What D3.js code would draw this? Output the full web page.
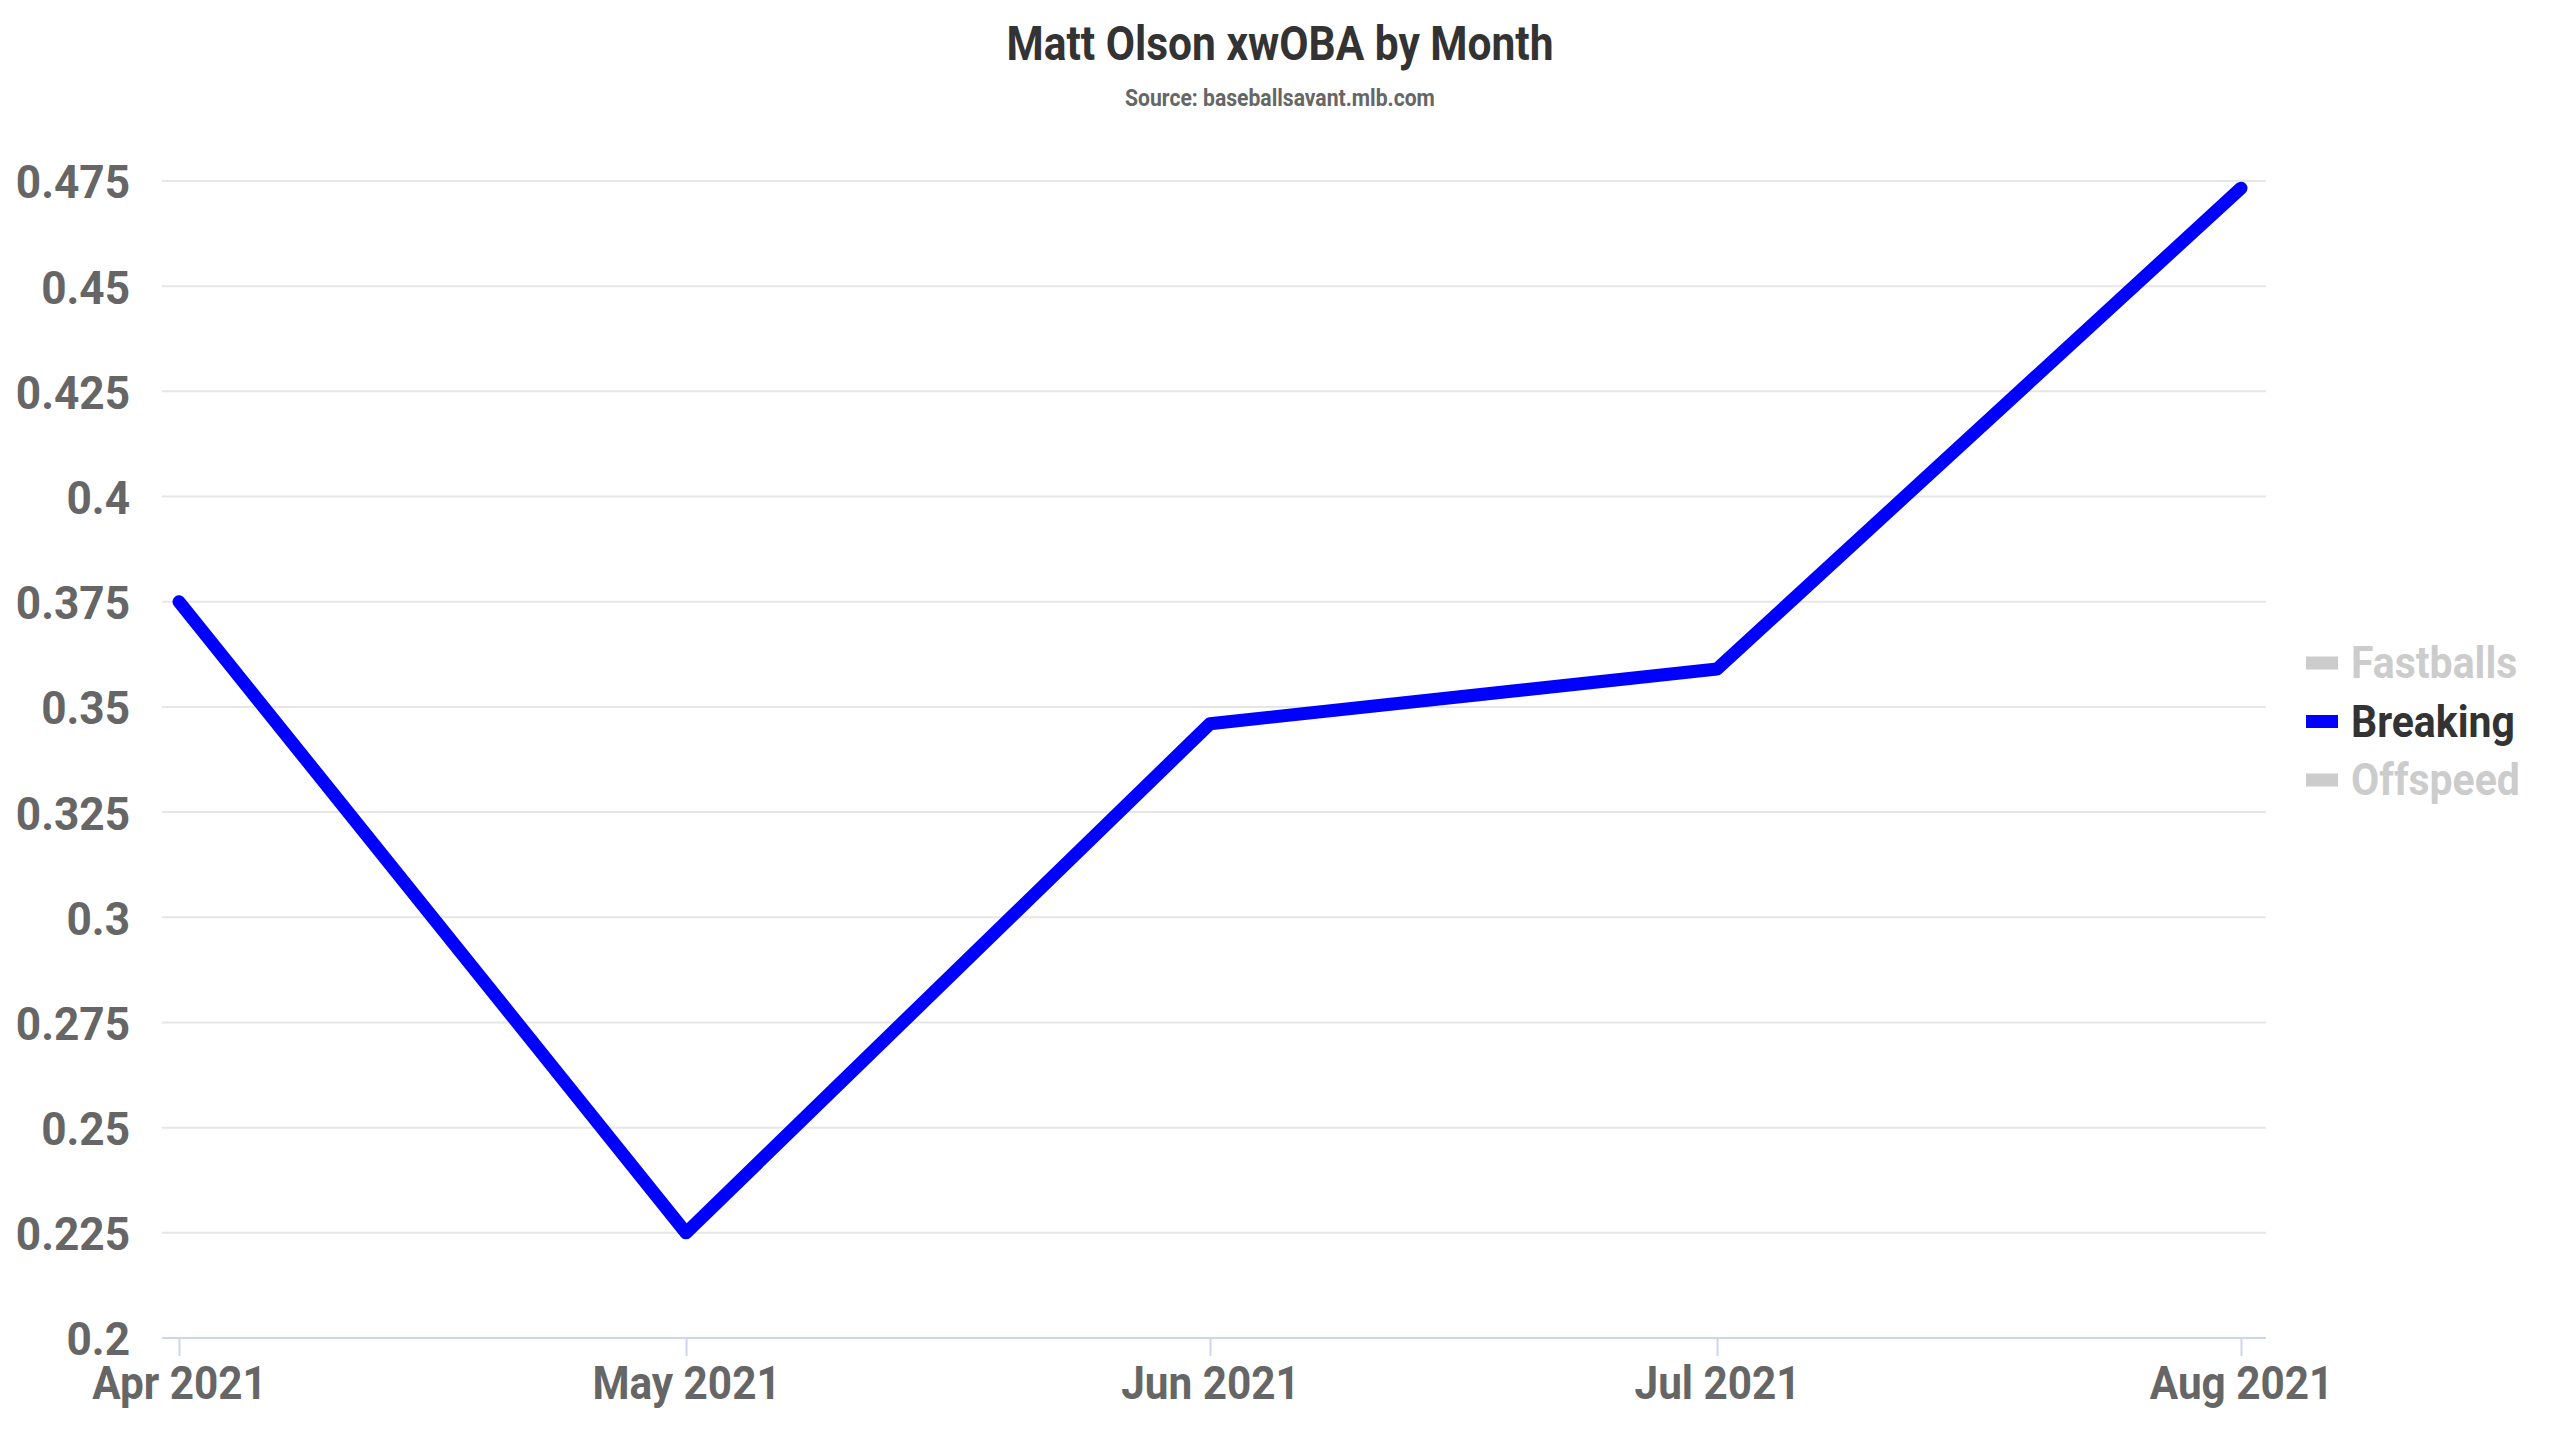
<!DOCTYPE html>
<html>
<head>
<meta charset="utf-8">
<script src="https://cdn.jsdelivr.net/npm/d3@7"></script>
<style>
  html, body { margin: 0; padding: 0; background: #ffffff; }
  svg { display: block; }
  text { font-family: Roboto, "Liberation Sans Narrow", sans-serif; font-weight: 700; }
</style>
</head>
<body>
<svg id="chart" width="2560" height="1440"></svg>
<script>
// ---- data ----
const months = ["2021-04-01", "2021-05-01", "2021-06-01", "2021-07-01", "2021-08-01"];
const monthLabels = ["Apr 2021", "May 2021", "Jun 2021", "Jul 2021", "Aug 2021"];
const breakingValues = [0.375, 0.225, 0.346, 0.359, 0.4733];
const yTicks = [0.2, 0.225, 0.25, 0.275, 0.3, 0.325, 0.35, 0.375, 0.4, 0.425, 0.45, 0.475];
const yTickLabels = ["0.2", "0.225", "0.25", "0.275", "0.3", "0.325", "0.35", "0.375", "0.4", "0.425", "0.45", "0.475"];
const seriesNames = ["Fastballs", "Breaking", "Offspeed"];
const seriesVisible = [false, true, false];
const titleText = "Matt Olson xwOBA by Month";
const subtitleText = "Source: baseballsavant.mlb.com";

// ---- layout ----
const W = 2560, H = 1440;
const plotLeft = 162, plotRight = 2266, plotTop = 181, plotBottom = 1338;
const parse = d3.timeParse("%Y-%m-%d");
const dates = months.map(parse);

const svg = d3.select("#chart");

const x = d3.scaleTime().domain([dates[0], dates[dates.length - 1]]).range([179, 2241]);
const y = d3.scaleLinear().domain([0.2, 0.475]).range([plotBottom, plotTop]);

// condense helper (approximate a condensed face)
function condense(sel, f) {
  sel.each(function () {
    const len = this.getComputedTextLength();
    d3.select(this).attr("textLength", len * f).attr("lengthAdjust", "spacingAndGlyphs");
  });
}

// gridlines
svg.append("g")
  .selectAll("line")
  .data(yTicks.filter(v => v !== 0.2))
  .join("line")
  .attr("x1", plotLeft).attr("x2", plotRight)
  .attr("y1", d => y(d)).attr("y2", d => y(d))
  .attr("stroke", "#e6e6e6").attr("stroke-width", 2);

// y axis labels
const yAxis = d3.axisLeft(y).tickValues(yTicks)
  .tickFormat((d, i) => yTickLabels[i]).tickSize(0).tickPadding(0);
const gy = svg.append("g").attr("transform", `translate(130,0)`).call(yAxis);
gy.select(".domain").remove();
gy.selectAll("text")
  .attr("fill", "#666666").attr("font-size", 47).attr("dy", "0.36em")
  .style("font-family", "Roboto").style("font-weight", 700);
condense(gy.selectAll("text"), 0.94);

// x axis
const xAxis = d3.axisBottom(x).tickValues(dates)
  .tickFormat((d, i) => monthLabels[i]).tickSize(18).tickPadding(10);
const gx = svg.append("g").attr("transform", `translate(0,${plotBottom})`).call(xAxis);
gx.select(".domain").attr("d", `M${plotLeft},0H${plotRight}`).attr("stroke", "#ccd6eb").attr("stroke-width", 2);
gx.selectAll(".tick line").attr("stroke", "#ccd6eb").attr("stroke-width", 2);
gx.selectAll("text")
  .attr("fill", "#666666").attr("font-size", 47).attr("dy", "0.71em")
  .style("font-family", "Roboto").style("font-weight", 700);
condense(gx.selectAll("text"), 0.9);

// line
const line = d3.line().x((d, i) => x(dates[i])).y(d => y(d));
svg.append("path")
  .datum(breakingValues)
  .attr("d", line)
  .attr("fill", "none")
  .attr("stroke", "#0000ff")
  .attr("stroke-width", 13)
  .attr("stroke-linecap", "round")
  .attr("stroke-linejoin", "round");

// title
const t = svg.append("text").text(titleText)
  .attr("x", W / 2).attr("y", 60).attr("text-anchor", "middle")
  .attr("font-size", 48).attr("fill", "#333333");
condense(t, 0.885);
const st = svg.append("text").text(subtitleText)
  .attr("x", W / 2).attr("y", 106).attr("text-anchor", "middle")
  .attr("font-size", 24).attr("fill", "#666666");
condense(st, 0.88);

// legend
const legend = svg.append("g").attr("transform", "translate(2306,663)");
const items = legend.selectAll("g").data(seriesNames).join("g")
  .attr("transform", (d, i) => `translate(0,${i * 58.5})`);
items.append("rect")
  .attr("x", 0).attr("y", -6.5).attr("width", 32).attr("height", 13)
  .attr("fill", (d, i) => seriesVisible[i] ? "#0000ff" : "#cccccc");
const lt = items.append("text").text(d => d)
  .attr("x", 45).attr("y", 15)
  .attr("font-size", 45)
  .attr("fill", (d, i) => seriesVisible[i] ? "#333333" : "#cccccc");
condense(lt, 0.91);
</script>
</body>
</html>
